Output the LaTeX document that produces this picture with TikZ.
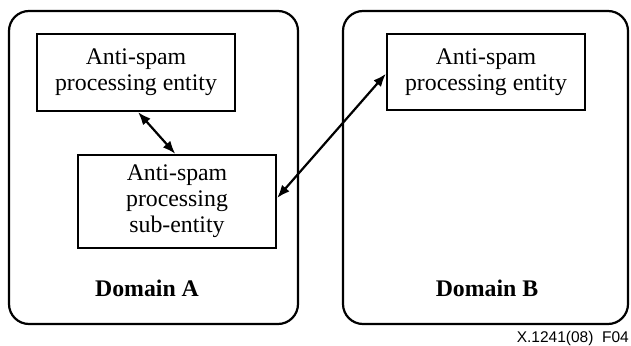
\documentclass[tikz,border=0pt]{standalone}
\usepackage{fontspec}
\setmainfont{Liberation Serif}
\newfontfamily\figsans{Liberation Sans}
\usetikzlibrary{arrows.meta}
\tikzset{
  domainbox/.style={draw, line width=2.2pt, rounded corners=20pt, inner sep=0pt},
  entitybox/.style={draw, line width=2.2pt, inner sep=0pt, align=center,
    font=\fontsize{23.8}{26}\selectfont},
  domainlabel/.style={font=\fontsize{23.8}{26}\selectfont\bfseries, inner sep=0pt},
  link/.style={line width=2.2pt, {Latex[length=13pt,width=10pt]}-{Latex[length=13pt,width=10pt]}}
}
\begin{document}
\begin{tikzpicture}[x=1pt,y=-1pt]
  \useasboundingbox (0,0) rectangle (631,345);
  % Domains
  \node[domainbox, minimum width=289pt, minimum height=313pt] (domA) at (153.5,167.5) {};
  \node[domainbox, minimum width=285pt, minimum height=313pt] (domB) at (485.5,167.5) {};
  % Entities
  \node[entitybox, minimum width=198pt, minimum height=77pt] (entA) at (136,72.5)
    {Anti-spam\\processing entity};
  \node[entitybox, minimum width=198pt, minimum height=93pt] (subA) at (177,201.5)
    {Anti-spam\\processing\\sub-entity};
  \node[entitybox, minimum width=198pt, minimum height=76pt] (entB) at (486,72)
    {Anti-spam\\processing entity};
  % Labels
  \node[domainlabel] (labA) at (147,288) {Domain A};
  \node[domainlabel] (labB) at (487,288) {Domain B};
  \node[font=\figsans\fontsize{15.5}{17}\selectfont, anchor=east, inner sep=0pt] (fig) at (629,338) {X.1241(08)\ \ F04};
  % Links
  \draw[link] (entA.-87) -- (subA.92.5);
  \draw[link] (subA.2) -- (entB.181);
\end{tikzpicture}
\end{document}
